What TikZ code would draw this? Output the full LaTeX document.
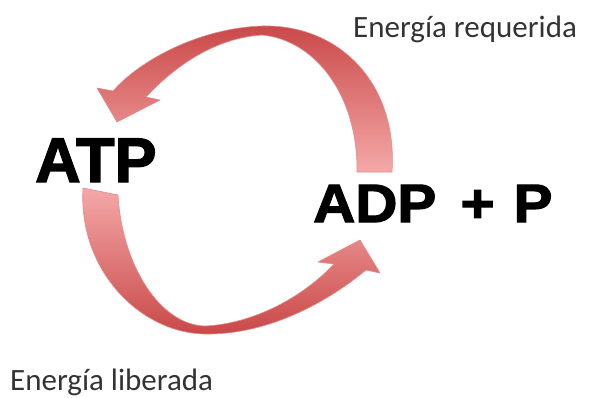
\documentclass[tikz,border=0pt]{standalone}
\usepackage{fontspec}
\usepackage{xcolor}
\setmainfont{Carlito}
\newfontfamily\heavyfont{Liberation Sans}[UprightFont=* Bold, FakeBold=2.2]
\usetikzlibrary{positioning}
\definecolor{ribbondark}{HTML}{C94848}
\definecolor{ribbonlight}{HTML}{F5A8A8}
\definecolor{ribbonedge}{HTML}{E58A8A}

\begin{document}
\begin{tikzpicture}[
        x=1pt, y=-1pt,
        arrowband/.style={
          draw=ribbonedge,
          line width=0.6pt,
          line join=round
        },
        energylabel/.style={
          anchor=base west,
          inner sep=0pt,
          font=\fontsize{31}{36}\selectfont,
          text=black!80
        },
        moleculelabel/.style={
          anchor=base west,
          inner sep=0pt,
          font=\heavyfont
        }
      ]
      \useasboundingbox (0,0) rectangle (594,397);

      % upper ribbon: ADP + P back to ATP
      \path[arrowband, top color=ribbondark, bottom color=ribbonlight]
        (392,172) .. controls (398,82) and (338,24) .. (262,26)
        .. controls (200,28) and (140,60) .. (113,91)
        -- (97,88) -- (117,122) -- (160,100) -- (146,97)
        .. controls (175,66) and (215,38) .. (262,35)
        .. controls (315,40) and (358,95) .. (357,172) -- cycle;

      % lower ribbon: ATP to ADP + P
      \path[arrowband, top color=ribbonlight, bottom color=ribbondark]
        (83,188) .. controls (78,270) and (140,333) .. (205,334)
        .. controls (270,335) and (330,300) .. (366,270)
        -- (380,273) -- (360,240) -- (318,262) -- (334,264)
        .. controls (300,300) and (250,324) .. (205,326)
        .. controls (160,325) and (122,265) .. (118,195) -- cycle;

      \node[moleculelabel, font=\heavyfont\fontsize{63}{70}\selectfont] (atp) at (35,182) {ATP};
      \node[moleculelabel, font=\heavyfont\addfontfeature{FakeStretch=1.08}\fontsize{54}{60}\selectfont]
        (adp) at (313,222) {ADP\hspace{0.45em}+\hspace{0.35em}P};

      \node[energylabel] (requerida) at (353,37) {Energía requerida};
      \node[energylabel] (liberada) at (10,390) {Energía liberada};

      \end{tikzpicture}
\end{document}
